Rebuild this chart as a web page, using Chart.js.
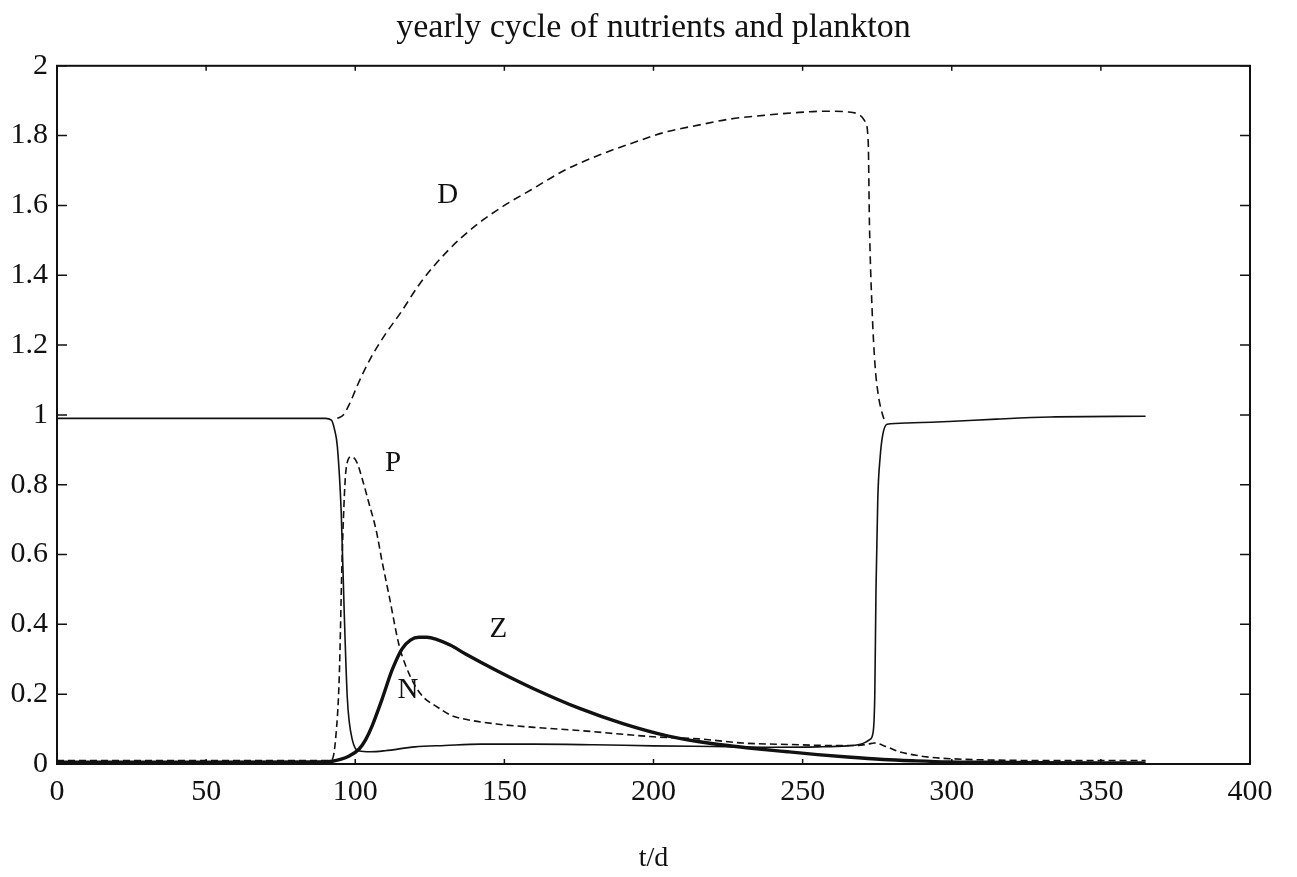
<!DOCTYPE html>
<html>
<head>
<meta charset="utf-8">
<script src="https://cdn.jsdelivr.net/npm/chart.js@4/dist/chart.umd.min.js"></script>
<style>
    body { margin: 0; background: #fff; }
    #cycleChart { display: block; }
</style>
</head>
<body>
<canvas id="cycleChart" width="1297" height="877"></canvas>
<script>
// N - nutrients (thin solid)
const nDays = [0, 50, 90, 92, 93, 94, 95.3, 96.3, 97.3, 98, 99, 100, 101.3, 105, 110, 120, 130, 142, 160, 180, 200, 220, 240, 255, 265, 269, 271, 272.5, 273.6, 274.2, 274.6, 275.2, 276, 276.8, 278.3, 285, 299, 315, 333, 365];
const nValues = [0.99, 0.99, 0.99, 0.985, 0.96, 0.91, 0.72, 0.435, 0.195, 0.12, 0.07, 0.045, 0.037, 0.035, 0.038, 0.049, 0.053, 0.057, 0.057, 0.055, 0.052, 0.05, 0.048, 0.049, 0.052, 0.056, 0.062, 0.07, 0.089, 0.2, 0.5, 0.76, 0.88, 0.94, 0.973, 0.977, 0.981, 0.988, 0.994, 0.996];

// D - detritus (dashed, upper curve)
const dDays = [94, 96, 98, 101, 105, 110, 115, 122, 131, 140, 150, 159, 170, 182, 195, 204, 215, 226, 237, 248, 258, 265, 269, 271, 272, 272.4, 273.3, 274.3, 275.5, 276.6, 277.6];
const dValues = [0.99, 1.0, 1.03, 1.09, 1.16, 1.23, 1.29, 1.38, 1.47, 1.54, 1.6, 1.645, 1.7, 1.745, 1.785, 1.81, 1.83, 1.848, 1.858, 1.866, 1.87, 1.868, 1.86, 1.84, 1.78, 1.55, 1.3, 1.14, 1.05, 1.007, 0.98];

// P - phytoplankton (dashed, lower curve)
const pDays = [0, 50, 90, 92.3, 93.5, 94.6, 95.7, 97, 98.7, 100.5, 102.4, 104.5, 107, 109, 111.4, 114.7, 117, 120, 123, 127, 132, 137, 148, 160, 175, 190, 200, 215, 230, 245, 260, 268, 272, 274, 278, 282, 288, 293, 300, 310, 330, 365];
const pValues = [0.01, 0.01, 0.01, 0.014, 0.08, 0.24, 0.62, 0.85, 0.88, 0.865, 0.815, 0.75, 0.67, 0.58, 0.48, 0.34, 0.28, 0.225, 0.19, 0.166, 0.14, 0.128, 0.114, 0.105, 0.096, 0.085, 0.078, 0.072, 0.06, 0.056, 0.053, 0.053, 0.057, 0.06, 0.05, 0.036, 0.025, 0.019, 0.015, 0.012, 0.01, 0.01];

// Z - zooplankton (thick solid)
const zDays = [0, 50, 88, 92.3, 95, 98, 101.3, 103.5, 105.7, 109, 112.4, 115.7, 118.5, 121.4, 124, 127, 132, 137, 148, 160, 175, 190, 205, 220, 232, 245, 255, 265, 277, 288, 299, 310, 330, 365];
const zValues = [0.005, 0.005, 0.006, 0.008, 0.013, 0.023, 0.043, 0.07, 0.11, 0.186, 0.27, 0.33, 0.355, 0.363, 0.363, 0.358, 0.34, 0.315, 0.265, 0.215, 0.16, 0.115, 0.08, 0.058, 0.046, 0.035, 0.027, 0.02, 0.013, 0.009, 0.006, 0.005, 0.004, 0.003];

// curve names written inside the plot
const curveNames = ['D', 'P', 'Z', 'N'];
const nameDays = [131, 112.7, 148, 117.7];
const nameValues = [1.63, 0.86, 0.385, 0.21];

const xTicks = [0, 50, 100, 150, 200, 250, 300, 350, 400];
const yTicks = [0, 0.2, 0.4, 0.6, 0.8, 1, 1.2, 1.4, 1.6, 1.8, 2];

const serif = '"Liberation Serif", "DejaVu Serif", serif';

function toPoints(days, values) {
    return days.map((t, i) => ({ x: t, y: values[i] }));
}

// frame, inward ticks and curve names
const framePlugin = {
    id: 'frame',
    afterDatasetsDraw(chart) {
        const ctx = chart.ctx;
        const area = chart.chartArea;
        const xs = chart.scales.x;
        const ys = chart.scales.y;
        ctx.save();
        ctx.strokeStyle = '#111';
        ctx.lineWidth = 2;
        ctx.strokeRect(area.left, area.top, area.right - area.left, area.bottom - area.top);
        ctx.lineWidth = 1.5;
        ctx.beginPath();
        yTicks.forEach(v => {
            const y = ys.getPixelForValue(v);
            ctx.moveTo(area.left, y); ctx.lineTo(area.left + 10, y);
            ctx.moveTo(area.right, y); ctx.lineTo(area.right - 10, y);
        });
        xTicks.forEach(v => {
            const x = xs.getPixelForValue(v);
            ctx.moveTo(x, area.bottom); ctx.lineTo(x, area.bottom - 5);
            ctx.moveTo(x, area.top); ctx.lineTo(x, area.top + 5);
        });
        ctx.stroke();

        ctx.fillStyle = '#111';
        ctx.font = '29px ' + serif;
        ctx.textAlign = 'center';
        ctx.textBaseline = 'middle';
        curveNames.forEach((name, i) => {
            ctx.fillText(name, xs.getPixelForValue(nameDays[i]), ys.getPixelForValue(nameValues[i]));
        });
        ctx.restore();
    }
};

const ctx = document.getElementById('cycleChart').getContext('2d');
new Chart(ctx, {
    type: 'line',
    data: {
        datasets: [{
            label: 'N',
            data: toPoints(nDays, nValues),
            borderColor: '#111',
            borderWidth: 1.6
        }, {
            label: 'D',
            data: toPoints(dDays, dValues),
            borderColor: '#111',
            borderWidth: 1.6,
            borderDash: [8, 5]
        }, {
            label: 'P',
            data: toPoints(pDays, pValues),
            borderColor: '#111',
            borderWidth: 1.6,
            borderDash: [7, 4]
        }, {
            label: 'Z',
            data: toPoints(zDays, zValues),
            borderColor: '#111',
            borderWidth: 3.4
        }]
    },
    options: {
        responsive: false,
        animation: false,
        layout: { padding: { left: 0, right: 47, top: 0, bottom: 0 } },
        elements: {
            point: { radius: 0 },
            line: { cubicInterpolationMode: 'monotone' }
        },
        plugins: {
            legend: { display: false },
            tooltip: { enabled: false },
            title: {
                display: true,
                fullSize: false,
                text: 'yearly cycle of nutrients and plankton',
                color: '#111',
                font: { family: serif, size: 34, weight: 'normal' },
                padding: { top: 8, bottom: 17 }
            }
        },
        scales: {
            x: {
                type: 'linear',
                min: 0,
                max: 400,
                afterFit(scale) { scale.height = 113; },
                afterBuildTicks(scale) { scale.ticks = xTicks.map(v => ({ value: v })); },
                grid: { display: false, drawTicks: false },
                border: { display: false },
                ticks: {
                    color: '#111',
                    padding: 10,
                    maxRotation: 0,
                    font: { family: serif, size: 30 }
                },
                title: {
                    display: true,
                    text: 't/d',
                    color: '#111',
                    font: { family: serif, size: 28 },
                    padding: { top: 0, bottom: 2 }
                }
            },
            y: {
                min: 0,
                max: 2,
                afterFit(scale) { scale.width = 57; },
                afterBuildTicks(scale) { scale.ticks = yTicks.map(v => ({ value: v })); },
                grid: { display: false, drawTicks: false },
                border: { display: false },
                ticks: {
                    color: '#111',
                    padding: 9,
                    font: { family: serif, size: 30 },
                    callback: v => String(Math.round(v * 10) / 10)
                }
            }
        }
    },
    plugins: [framePlugin]
});
</script>
</body>
</html>
